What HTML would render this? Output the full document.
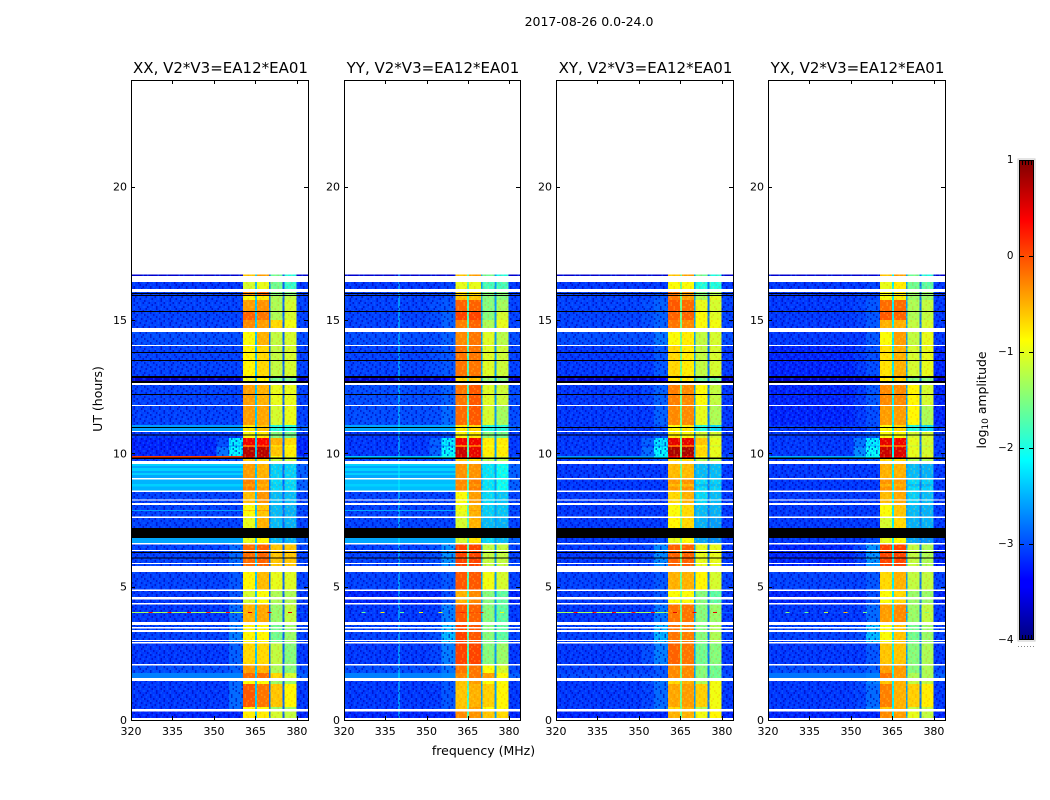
<!DOCTYPE html>
<html>
<head>
<meta charset="utf-8">
<title>2017-08-26 amplitude waterfall</title>
<style>
html,body{margin:0;padding:0;background:#fff;width:1050px;height:800px;overflow:hidden}
svg{display:block}
text{font-family:"DejaVu Sans","Liberation Sans",sans-serif;fill:#000}
</style>
</head>
<body>
<svg id="fig" xmlns="http://www.w3.org/2000/svg" width="1050" height="800" viewBox="0 0 1050 800">
  <defs>
    <linearGradient id="jet" x1="0" y1="1" x2="0" y2="0">
      <stop offset="0" stop-color="#00007f"/>
      <stop offset="0.11" stop-color="#0000ff"/>
      <stop offset="0.125" stop-color="#0000ff"/>
      <stop offset="0.375" stop-color="#00ffff"/>
      <stop offset="0.5" stop-color="#7fff7f"/>
      <stop offset="0.625" stop-color="#ffff00"/>
      <stop offset="0.875" stop-color="#ff0000"/>
      <stop offset="1" stop-color="#7f0000"/>
    </linearGradient>
    <pattern id="speckle" patternUnits="userSpaceOnUse" width="36" height="24"></pattern>
    <pattern id="speckle-band" patternUnits="userSpaceOnUse" width="36" height="24"></pattern>
  </defs>
  <text x="589" y="26" font-size="12.5" text-anchor="middle">2017-08-26 0.0-24.0</text>
  <text x="102" y="399" font-size="12.5" text-anchor="middle" transform="rotate(-90 102 399)">UT (hours)</text>
  <text x="483.5" y="755" font-size="12.5" text-anchor="middle">frequency (MHz)</text>
  <g id="panels"></g>
  <g id="colorbar">
    <rect x="1018" y="159" width="17" height="482" fill="none" stroke="#c8c8c8" stroke-width="1"/>
    <rect x="1019.5" y="160.5" width="14" height="479" fill="url(#jet)" stroke="#000" stroke-width="1"/>
  </g>
  <text x="986" y="400" font-size="12.4" text-anchor="middle" transform="rotate(-90 986 400)">log<tspan font-size="9" dy="2">10</tspan><tspan dy="-2"> amplitude</tspan></text>
</svg>
<script>
// Panels and axes
const panelTitles = ["XX, V2*V3=EA12*EA01", "YY, V2*V3=EA12*EA01", "XY, V2*V3=EA12*EA01", "YX, V2*V3=EA12*EA01"];
const xTicks = [320, 335, 350, 365, 380];
const yTicks = [0, 5, 10, 15, 20];
const colorTicks = [1, 0, -1, -2, -3, -4];
const colorTickLabels = ["1", "0", "\u22121", "\u22122", "\u22123", "\u22124"];

// Frequency column edges (MHz): background, two shoulders, four bands and the notches between them
const freqEdges = [320, 351, 355.5, 360.5, 364.8, 365.5, 369.9, 370.4, 374.8, 375.5, 379.9, 384];

// Time rows (UT hours), top of the plot downward; hours not listed are blank
const rowTop = [16.706,16.425,16.05,16.013,15.975,15.938,15.9,15.75,15.338,15.3,15,14.55,14.025,13.8,13.763,13.5,13.463,12.9,12.825,12.713,12.563,12.225,12.188,11.775,11.063,10.988,10.95,10.8,10.706,10.669,10.575,10.313,10.238,9.9,9.844,9.788,9.6,9.525,9.45,9.338,9.263,9.188,9.019,8.85,8.75,8.55,8.231,8.063,7.875,7.838,7.575,7.2,6.825,6.581,6.338,6.3,6.263,6.094,6.056,5.85,5.55,4.838,4.519,4.331,4.05,4.013,3.563,3.431,3.3,2.963,2.869,2.044,1.763,1.463,1.35,0.488,0.319];
const rowBottom = [16.65,16.163,16.013,15.975,15.938,15.9,15.75,15.338,15.3,15,14.7,14.063,13.8,13.763,13.5,13.463,12.9,12.825,12.713,12.638,12.225,12.188,11.813,11.063,10.988,10.95,10.838,10.706,10.669,10.575,10.313,10.238,9.9,9.844,9.788,9.713,9.525,9.45,9.338,9.263,9.188,9.075,8.85,8.75,8.606,8.269,8.138,7.875,7.838,7.631,7.2,6.825,6.638,6.375,6.3,6.263,6.094,6.056,5.888,5.775,4.894,4.613,4.388,4.05,4.013,3.675,3.488,3.375,3,2.925,2.1,1.763,1.575,1.35,0.488,0.413,0.075];
const rowKind = ["thin","a","b0","zero","b0","zero","b1","b2","zero","b3","b4","c","c2","zero","c2","zero","c2","zero","dk","zero","d","zero","d","e","f","zero","f","g1","zero","g1","g2","g3","g4","line","zero","g6","h2","h","h2","h","h2","h","hb","h2","hb","i","i","i2","iline","i2","j","zero","k","l","l","zero","l","zero","l","l","m","n","n","o","rfi","o","p","p","p","p","q","r","r2","s","t","s","v"];

// log10 amplitude per row kind: [background, shoulder1, shoulder2, band1, band2, band3, band4]
const kindNames = ["thin","a","b0","b1","b2","b3","b4","c","c2","dk","d","e","f","g1","g2","g3","g4","line","g6","h","h2","hb","i","i2","iline","j","k","l","m","n","o","rfi","p","q","r","r2","s","t","v","zero"];
const levelsXX = [[-3.6,-3.6,-3.6,-.6,-.4,-1.6,-2],[-3.1,-3.1,-3.1,-1.1,-1,-1.6,-1.9],[-3.05,-3.05,-3.05,-.3,-.1,-1.5,-1.5],[-3.05,-3.05,-3.05,-.9,-.8,-1.3,-1.2],[-3.05,-3.05,-3.05,-.4,-.35,-1.3,-1.1],[-3.05,-3.05,-3.05,-.1,-.2,-1.3,-1.1],[-3.05,-3.05,-3.05,-.3,-.4,-.7,-.95],[-3,-3,-3,-.9,-.5,-1.2,-1.1],[-3.05,-3.05,-3.05,-.85,-.7,-1.2,-1.1],[-3.6,-3.6,-3.6,-1,-.9,-1.6,-1.6],[-3.05,-3.05,-3.05,-.4,-.5,-1,-1],[-3.05,-3.05,-3.05,-.4,-.45,-1.1,-1],[-2.6,-2.6,-2.6,-.8,-.6,-2,-2],[-3.1,-3.1,-3.1,-.9,-.8,-1.5,-1.6],[-3.2,-3,-2.2,.45,.4,-.5,-.7],[-3.2,-3,-2.4,-.1,.1,-.7,-.9],[-3.2,-2.8,-2.15,.75,.75,-.6,-.8],[.1,0,.1,.6,.6,-.9,-1],[-3.05,-3.05,-2.95,-.6,-.7,-1.2,-1.2],[-2.55,-2.55,-2.55,-.4,-.5,-2.35,-2.35],[-2.35,-2.35,-2.35,-.4,-.5,-2.35,-2.35],[-2.5,-2.5,-2.5,-.25,-.4,-2.3,-2.3],[-3.05,-3.05,-3.05,-.55,-.35,-2.45,-2.45],[-3.05,-3.05,-3.05,-.9,-.6,-2.45,-2.5],[-2.6,-2.6,-2.6,-.6,-.4,-2.45,-2.5],[-3.05,-3.05,-3.05,-1,-.5,-2.45,-2.5],[-2.55,-2.55,-2.55,-1,-.85,-2.45,-2.5],[-3.05,-3.05,-2.85,-.15,-.1,-.6,-.6],[-3.05,-3.05,-2.95,-.85,-.55,-1,-1.05],[-3.1,-3.1,-2.95,-1.1,-.9,-1.3,-1.3],[-3.1,-3.1,-2.85,-.5,-.45,-1.4,-1.2],[-1.3,-1.3,-1.3,-.5,-.45,-1.4,-1.15],[-3.05,-3.05,-2.75,-.85,-.85,-1.6,-1.4],[-3.1,-3.1,-2.9,-.7,-.7,-1.2,-1.5],[-3,-3,-2.9,-.4,-.5,-1.3,-1.5],[-2.75,-2.75,-2.75,-.15,-.15,-.7,-1.1],[-3.1,-3.1,-2.85,-.9,-.9,-1.4,-1.4],[-3.1,-3.1,-2.85,-.05,-.2,-.6,-.85],[-3.2,-3.2,-3.2,-.8,-.8,-1.1,-1.2],[-9,-9,-9,-9,-9,-9,-9]];
const levelsYY = [[-3.6,-3.6,-3.6,-.6,-.4,-1.6,-2],[-3.1,-3.1,-3.05,-1,-1,-1.8,-1.8],[-3.05,-3.05,-3,-.7,-.7,-1.5,-1.5],[-3.05,-3.05,-3,-.6,-.6,-1.5,-1.5],[-3.05,-3,-2.95,-.1,-.1,-1.5,-1.35],[-3.05,-3,-2.9,.05,.05,-1.5,-1.1],[-3.05,-3.05,-2.9,-.25,-.1,-1.3,-1],[-3,-3,-2.9,-.3,-.2,-1.05,-1.25],[-3.05,-3,-2.95,-.2,-.2,-1.05,-1.15],[-3.6,-3.6,-3.4,-.7,-.6,-1.4,-1.5],[-3,-3,-2.9,-.2,-.05,-1.05,-1.15],[-3,-3,-2.85,-.15,-.05,-1.1,-1.35],[-2.55,-2.55,-2.55,-.8,-.7,-2,-2],[-3.1,-3.1,-3,-.9,-.8,-1.5,-1.6],[-3.1,-2.9,-2.2,.45,.45,-.8,-.8],[-3.1,-3,-2.4,-.2,-.1,-.9,-.9],[-3.1,-2.9,-2.15,.65,.5,-.8,-.8],[-2.4,-2.3,-2,.5,.4,-1,-1],[-3.05,-3.05,-2.95,-.6,-.7,-1.3,-1.3],[-2.55,-2.55,-2.55,-.35,-.35,-2.25,-2.1],[-2.35,-2.35,-2.35,-.35,-.35,-2.25,-2.1],[-2.45,-2.45,-2.45,-.3,-.25,-2.25,-2.1],[-3.05,-3.05,-3.05,-.9,-.4,-2.3,-2.4],[-3.05,-3.05,-3.05,-1,-.5,-2.35,-2.4],[-2.55,-2.55,-2.55,-.9,-.4,-2.35,-2.4],[-3.05,-3.05,-3.05,-1.1,-.5,-2.45,-2.5],[-2.55,-2.55,-2.55,-1.1,-.75,-2.3,-2.45],[-3.05,-3,-2.65,.05,.05,-1.2,-1.2],[-3.05,-3.05,-2.95,-.05,-.05,-.95,-1.1],[-3.2,-3.2,-3,-.5,-.3,-1.5,-1.7],[-3.1,-3.1,-2.75,-.05,-.1,-1.5,-1.7],[-3.05,-3.05,-2.8,.05,0,-1.5,-1.7],[-3.05,-3,-2.45,.05,-.05,-1.5,-1.7],[-3.1,-3.05,-2.75,.05,.05,-1.5,-1.4],[-3,-3,-2.8,-.2,-.2,-.9,-1.1],[-2.75,-2.75,-2.7,-.3,-.2,-.4,-.9],[-3.1,-3.05,-2.95,-.6,-.4,-.9,-.9],[-3.1,-3.1,-2.95,-.6,-.5,-.65,-.85],[-3.2,-3.2,-3.2,-.3,-.35,-.6,-.7],[-9,-9,-9,-9,-9,-9,-9]];
const levelsXY = [[-3.6,-3.6,-3.6,-.6,-.4,-1.6,-2],[-3.1,-3.1,-3.1,-.9,-.9,-2,-2],[-3.05,-3.05,-3,-.2,-.4,-1.5,-1.3],[-3.05,-3.05,-2.95,-.2,-.4,-1.3,-1],[-3.05,-3,-2.9,-.05,-.15,-1,-1.1],[-3.05,-3,-2.9,-.1,-.1,-.9,-1.05],[-3.05,-3,-2.9,-.2,-.3,-.9,-.95],[-3,-3,-2.8,-.9,-.8,-1.2,-1.1],[-3.1,-3.1,-2.95,-.7,-.8,-1.2,-1.1],[-3.6,-3.6,-3.4,-.8,-.8,-1.6,-1.6],[-3.1,-3.05,-2.9,-.25,-.3,-.9,-1.2],[-3.1,-3.1,-2.9,-.3,-.3,-1,-1.3],[-3.1,-3.1,-3,-.9,-.8,-2,-2.3],[-3.1,-3.1,-3,-.8,-.9,-1.1,-1.1],[-3.1,-2.9,-2.25,.5,.5,-.6,-1],[-3.1,-3,-2.4,-.1,-.1,-.8,-1.1],[-3.1,-2.85,-2.15,.8,.8,-.7,-1],[-2.6,-2.6,-2.2,.4,.4,-.9,-1],[-3.1,-3.05,-2.95,-.7,-.7,-1.3,-1.3],[-3.1,-3.1,-3.1,-.55,-.55,-2.45,-2.45],[-3.1,-3.1,-3.1,-.55,-.55,-2.45,-2.45],[-3.1,-3.1,-3.1,-.4,-.35,-2.3,-2.35],[-3.1,-3.1,-3.1,-.7,-.5,-2.3,-2.45],[-3.1,-3.1,-3.1,-.9,-.7,-2.45,-2.5],[-3.1,-3.1,-3.1,-.9,-.7,-2.45,-2.5],[-3.1,-3.1,-3.1,-.85,-.7,-2.5,-2.6],[-3.1,-3.1,-3,-1,-.9,-2.55,-2.65],[-3.1,-3.05,-2.7,-.1,-.1,-1,-1],[-3.05,-3.05,-2.95,-.5,-.5,-.85,-1.1],[-3.1,-3.1,-2.95,-.9,-.9,-1.5,-1.7],[-3.1,-3.1,-2.8,-.2,-.2,-1.5,-1.4],[-1.3,-1.3,-1.3,-.2,-.2,-1.5,-1.4],[-3.05,-3,-2.5,-.2,-.25,-1.5,-1.3],[-3.1,-3,-2.75,-.1,-.2,-1.6,-1.5],[-3.05,-3.05,-2.95,-.3,-.3,-1.5,-1.6],[-3,-3,-2.95,-.3,-.3,-1.5,-1.6],[-3.1,-3,-2.8,-.7,-.5,-1.3,-.95],[-3.1,-3.05,-2.85,-.45,-.4,-.65,-.95],[-3.2,-3.2,-3.2,-.5,-.5,-.95,-.85],[-9,-9,-9,-9,-9,-9,-9]];
const levelsYX = [[-3.6,-3.6,-3.6,-.6,-.4,-1.6,-2],[-3.1,-3.1,-3.05,-1,-.8,-1.6,-1.7],[-3.1,-3.05,-3.05,-.9,-.8,-1.4,-1.4],[-3.1,-3.05,-3.05,-.9,-.8,-1.4,-1.4],[-3.1,-3.05,-2.95,-.15,-.15,-1.3,-1.2],[-3.1,-3.05,-2.95,-.05,-.1,-1.3,-1.2],[-3.1,-3.05,-2.95,-.5,-.5,-1.2,-1.1],[-3.1,-3.1,-2.95,-.9,-.4,-1.2,-1],[-3.2,-3.1,-3,-.75,-.5,-1.1,-1],[-3.6,-3.6,-3.4,-.8,-.7,-1.5,-1.5],[-3.2,-3.1,-2.95,-.3,-.3,-.85,-1.1],[-3.2,-3.1,-3,-.4,-.4,-.85,-1.3],[-3.1,-3.1,-3,-.9,-.7,-2,-2.3],[-3.1,-3.05,-2.95,-.9,-.9,-1.1,-1.1],[-3.1,-2.8,-2.2,.5,.45,-1,-1.1],[-3.1,-2.85,-2.3,-.1,-.1,-1.1,-1.2],[-3.1,-2.7,-2.1,.65,.55,-1,-1.1],[-2.5,-2.4,-2.1,.5,.4,-1,-1],[-3.1,-3.05,-2.95,-.7,-.7,-1.3,-1.3],[-3.1,-3.1,-3.1,-.5,-.5,-2.45,-2.5],[-3.1,-3.1,-3.1,-.5,-.5,-2.45,-2.5],[-3.1,-3.1,-3.1,-.35,-.4,-2.3,-2.35],[-3.1,-3.1,-3.1,-.55,-.45,-2.35,-2.45],[-3.1,-3.1,-3.1,-.9,-.6,-2.45,-2.5],[-3.1,-3.1,-3.1,-.9,-.6,-2.45,-2.5],[-3.1,-3.1,-3.1,-1.1,-.7,-2.5,-2.5],[-3.1,-3.1,-3,-1,-.9,-2.55,-2.65],[-3.2,-3.05,-2.65,.05,.05,-1.2,-1.3],[-3.05,-3.05,-2.95,-.7,-.5,-1.2,-1.2],[-3.2,-3.2,-3,-.9,-.7,-1.4,-1.4],[-3.1,-3.1,-2.85,-.4,-.3,-1.4,-1.2],[-3.05,-3.05,-2.85,-.4,-.3,-1.4,-1.2],[-3.05,-3,-2.45,-.9,-.6,-1.6,-1.4],[-3.1,-3.1,-2.95,-.6,-.6,-1.5,-1.3],[-3,-3,-2.9,-.4,-.4,-1.5,-1.3],[-2.8,-2.8,-2.75,-.2,-.4,-1.3,-1.3],[-3.1,-3,-2.75,-.6,-.5,-1.2,-1.2],[-3.1,-3.05,-2.85,-.25,-.5,-.65,-.8],[-3.2,-3.2,-3.2,-.3,-.4,-1,-1.2],[-9,-9,-9,-9,-9,-9,-9]];
const panelLevels = [levelsXX, levelsYY, levelsXY, levelsYX];

// Notch levels between the four bands, per panel
const notchXX = [-2.4, -2.8, -2.9];
const notchYY = [-1.8, -2.6, -2.6];
const notchXY = [-1.6, -2.6, -2.8];
const notchYX = [-2.2, -2.6, -2.8];
const panelNotches = [notchXX, notchYY, notchXY, notchYX];

// Narrowband interference: burst frequencies on the 4-hour row, with levels per panel
const burstHour = 4.05;
const burstFreqs = [327, 334, 341, 348, 355, 363, 370, 377.5];
const burstXX = [.4, .3, .4, .3, .3, .5, .5, .5];
const burstYY = [-1.6, -.8, -1.6, -.9, -1, .2, .2, -1];
const burstXY = [.4, .3, .4, .3, .3, .5, .5, .5];
const burstYX = [-1.5, -1.6, -1.2, -.6, -1.5, -.4, -.2, -1.5];
const panelBursts = [burstXX, burstYY, burstXY, burstYX];

// Steady narrow channel visible in the YY panel (MHz, log10 amplitude)
const steadyChannelFreq = 339.9;
const steadyChannelLevel = -2.2;

// Fine-grain texture tile: c = brighter sample, d = darker sample
const speckleTile = [
  ".c..d...c.d..c...d.c..d.",
  "d..c..d...c..d.c...d...c",
  "..d.c...dc...d..c.d..c..",
  "c...d.c...d.c...d...c.d.",
  ".d.c...d.c...dc...d.c...",
  "..c..d...c.d...c.d...d.c",
  "d...c..c...d.c...d.c....",
  ".c.d...d.c...d.c...d.c.d",
  "...c.d...c.d...c.d...c..",
  "c.d...c.d...cd...c..d..c",
  ".d..c...d..c...d.c...d..",
  "..c.d.c...d..c...d.c...d"
];

// Geometry
const panelLeft = [131, 344, 556, 768];
const panelWidth = [177, 176, 177, 177];
const plotTop = 80, plotBottom = 720;
const xMin = 320, xMax = 384, yMin = 0, yMax = 24;
const cbTop = 160, cbBottom = 640, cbMin = -4, cbMax = 1;

const SVGNS = "http://www.w3.org/2000/svg";
function xScale(panel, f) { return panelLeft[panel] + (f - xMin) / (xMax - xMin) * panelWidth[panel]; }
function yScale(h) { return plotBottom - (h - yMin) / (yMax - yMin) * (plotBottom - plotTop); }
function cbScale(v) { return cbBottom - (v - cbMin) / (cbMax - cbMin) * (cbBottom - cbTop); }
function clip(x) { return Math.max(0, Math.min(1, x)); }
function jet(v) {
  if (v < cbMin) return "#000";
  const t = clip((v - cbMin) / (cbMax - cbMin));
  const r = clip(1.5 - Math.abs(4 * t - 3));
  const g = clip(1.5 - Math.abs(4 * t - 2));
  const b = clip(1.5 - Math.abs(4 * t - 1));
  return "rgb(" + Math.round(r * 255) + "," + Math.round(g * 255) + "," + Math.round(b * 255) + ")";
}
function make(tag, attrs, parent) {
  const el = document.createElementNS(SVGNS, tag);
  for (const k in attrs) el.setAttribute(k, attrs[k]);
  parent.appendChild(el);
  return el;
}

// Speckle pattern tiles
const patternEl = document.getElementById("speckle");
const bandPatternEl = document.getElementById("speckle-band");
speckleTile.forEach(function (line, r) {
  for (let c = 0; c < line.length; c++) {
    const ch = line[c];
    if (ch === ".") continue;
    const sample = make("rect", { x: c * 1.5, y: r * 2, width: 1.5, height: 2, fill: ch === "c" ? "#0f6cff" : "#0000b4", "fill-opacity": ch === "c" ? 0.4 : 0.6 }, patternEl);
    
    
    const bandSample = make("rect", { x: c * 1.5, y: r * 2, width: 1.5, height: 2, fill: ch === "c" ? "#ffe93a" : "#ff5a00", "fill-opacity": ch === "c" ? 0.22 : 0.16 }, bandPatternEl);
    
    
  }
});

// Column lookup per row: which level feeds each frequency column
function columnLevels(levels, notch) {
  return [levels[0], levels[1], levels[2], levels[3], notch[0], levels[4], notch[1], levels[5], notch[2], levels[6], Math.min(levels[0], -2.9)];
}

const panelsRoot = document.getElementById("panels");
panelTitles.forEach(function (title, p) {
  const panel = make("g", {}, panelsRoot);
  
  

  const heat = make("g", { "shape-rendering": "crispEdges" }, panel);
  
  

  rowKind.forEach(function (kind, r) {
    const levels = panelLevels[p][kindNames.indexOf(kind)];
    const y0 = yScale(rowTop[r]), y1 = yScale(rowBottom[r]);
    const isZero = kind === "zero";
    const cols = isZero ? null : columnLevels(levels, panelNotches[p]);
    for (let c = 0; c < freqEdges.length - 1; c++) {
      const x0 = xScale(p, freqEdges[c]), x1 = xScale(p, freqEdges[c + 1]);
      const value = isZero ? -9 : cols[c];
      const cell = make("rect", { x: x0, y: y0, width: x1 - x0, height: y1 - y0, fill: jet(value) }, heat);
      
      
    }
    if (isZero) return;
    if (p === 1) {
      const sx0 = xScale(p, steadyChannelFreq);
      const ch = make("rect", { x: sx0, y: y0, width: 1, height: y1 - y0, fill: jet(steadyChannelLevel) }, heat);
      
      
    }
    if (levels[0] < -2.8) {
      const texL = make("rect", { x: xScale(p, freqEdges[0]), y: y0, width: xScale(p, freqEdges[3]) - xScale(p, freqEdges[0]), height: y1 - y0, fill: "url(#speckle)" }, heat);
      
      
    }
    const texB = make("rect", { x: xScale(p, freqEdges[3]), y: y0, width: xScale(p, freqEdges[10]) - xScale(p, freqEdges[3]), height: y1 - y0, fill: "url(#speckle-band)" }, heat);
    
    
    const lastEdge = freqEdges.length - 1;
    const texR = make("rect", { x: xScale(p, freqEdges[lastEdge - 1]), y: y0, width: xScale(p, freqEdges[lastEdge]) - xScale(p, freqEdges[lastEdge - 1]), height: y1 - y0, fill: "url(#speckle)" }, heat);
    
    
  });

  burstFreqs.forEach(function (f, i) {
    const bx = xScale(p, f);
    const burst = make("rect", { x: bx - 2, y: yScale(burstHour), width: 4, height: 1.2, fill: jet(panelBursts[p][i]), "shape-rendering": "crispEdges" }, panel);
    
    
  });

  const spine = make("rect", { x: panelLeft[p] + 0.5, y: plotTop + 0.5, width: panelWidth[p], height: plotBottom - plotTop, fill: "none", stroke: "#000", "stroke-width": 1 }, panel);
  
  

  const ttl = make("text", { x: panelLeft[p] + panelWidth[p] / 2 + 1, y: 73, "font-size": 15, "text-anchor": "middle" }, panel);
  ttl.textContent = title;
  
  

  xTicks.forEach(function (t) {
    const x = Math.round(xScale(p, t)) + 0.5;
    const tb = make("line", { x1: x, x2: x, y1: plotBottom, y2: plotBottom - 4, stroke: "#000" }, panel);
    
    
    const tt = make("line", { x1: x, x2: x, y1: plotTop, y2: plotTop + 4, stroke: "#000" }, panel);
    
    
    const lab = make("text", { x: xScale(p, t), y: 735, "font-size": 11, "text-anchor": "middle" }, panel);
    lab.textContent = String(t);
    
    
  });

  yTicks.forEach(function (t) {
    const y = Math.round(yScale(t)) + 0.5;
    const tl = make("line", { x1: panelLeft[p], x2: panelLeft[p] + 4, y1: y, y2: y, stroke: "#000" }, panel);
    
    
    const tr = make("line", { x1: panelLeft[p] + panelWidth[p], x2: panelLeft[p] + panelWidth[p] - 4, y1: y, y2: y, stroke: "#000" }, panel);
    
    
    const lab = make("text", { x: panelLeft[p] - 4, y: yScale(t) + 4, "font-size": 11, "text-anchor": "end" }, panel);
    lab.textContent = String(t);
    
    
  });
});

// Colorbar ticks and labels
const cb = document.getElementById("colorbar");
colorTicks.forEach(function (v, i) {
  const y = Math.round(cbScale(v)) + 0.5;
  if (v !== 1 && v !== -4) {
    const tl = make("line", { x1: 1020, x2: 1024, y1: y, y2: y, stroke: "#000" }, cb);
    
    
    const tr = make("line", { x1: 1029, x2: 1033, y1: y, y2: y, stroke: "#000" }, cb);
    
    
  }
  const lab = make("text", { x: 1013.5, y: cbScale(v) + 3, "font-size": 10.4, "text-anchor": "end" }, cb);
  lab.textContent = colorTickLabels[i];
  
  
});
[1022, 1025, 1028, 1031].forEach(function (x) {
  const top = make("line", { x1: x + 0.5, x2: x + 0.5, y1: cbTop, y2: cbTop + 5, stroke: "#000" }, cb);
  
  
  const bot = make("line", { x1: x + 0.5, x2: x + 0.5, y1: cbBottom, y2: cbBottom - 5, stroke: "#000" }, cb);
  
  
});
[1018, 1021, 1024, 1027, 1030, 1033].forEach(function (x) {
  const dot = make("rect", { x: x, y: 646, width: 1, height: 1, fill: "#888" }, cb);
  
  
});
</script>
</body>
</html>
